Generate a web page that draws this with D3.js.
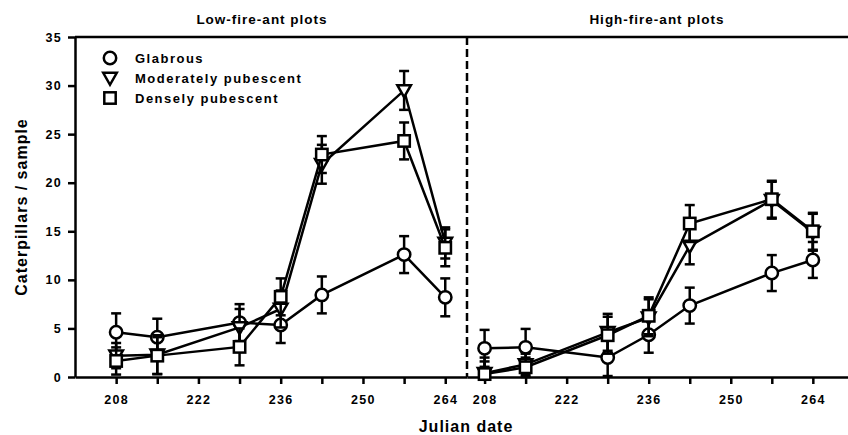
<!DOCTYPE html>
<html>
<head>
<meta charset="utf-8">
<script src="https://cdn.jsdelivr.net/npm/d3@7"></script>
<style>
  body { margin: 0; background: #fff; }
  svg { display: block; font-family: "Liberation Sans", Arial, sans-serif; }
</style>
</head>
<body>
<svg id="chart" width="848" height="435"></svg>
<script>
// Julian dates sampled (same for both panels)
const days = [208, 215, 229, 236, 243, 257, 264];
const xTicks = [208, 215, 222, 229, 236, 243, 250, 257, 264];
const xLabels = [208, 222, 236, 250, 264];
const yTicks = [0, 5, 10, 15, 20, 25, 30, 35];

// Low-fire-ant plots: means and error
const glabLow = [4.6, 4.1, 5.6, 5.35, 8.45, 12.6, 8.2];
const glabLowErr = [1.95, 1.9, 1.9, 1.85, 1.9, 1.9, 1.95];
const modLow = [2.2, 2.3, 5.1, 7.0, 21.9, 29.5, 13.8];
const modLowErr = [1.3, 2.0, 1.9, 1.9, 2.0, 2.0, 1.6];
const denseLow = [1.65, 2.2, 3.1, 8.25, 22.9, 24.3, 13.3];
const denseLowErr = [1.4, 1.9, 1.9, 1.9, 1.9, 1.9, 1.9];

// High-fire-ant plots
const glabHigh = [2.95, 3.05, 2.0, 4.35, 7.35, 10.7, 12.05];
const glabHighErr = [1.9, 1.9, 1.9, 1.85, 1.85, 1.85, 1.85];
const modHigh = [0.4, 1.3, 4.6, 6.1, 13.5, 18.2, 14.9];
const modHighErr = [1.2, 1.1, 1.9, 1.9, 1.9, 1.9, 1.9];
const denseHigh = [0.3, 1.0, 4.3, 6.3, 15.8, 18.3, 15.0];
const denseHighErr = [1.7, 1.0, 1.9, 1.9, 1.9, 1.9, 1.9];

const seriesNames = ['Glabrous', 'Moderately pubescent', 'Densely pubescent'];
const seriesShapes = ['circle', 'triangle', 'square'];

const svg = d3.select('#chart');
const plotTop = 37, plotBottom = 377, plotLeft = 75, divider = 467, plotRight = 848;
const sw = 2.5;

const y = d3.scaleLinear().domain([0, 35]).range([plotBottom, plotTop]);
const xLow = d3.scaleLinear().domain([201, 267.7]).range([plotLeft, divider]);
const xHigh = d3.scaleLinear().domain([205, 270]).range([divider, plotRight]);

function marker(sel, shape) {
  if (shape === 'circle') {
    sel.append('circle').attr('r', 6.2);
  } else if (shape === 'square') {
    sel.append('rect').attr('x', -5.7).attr('y', -5.7).attr('width', 11.4).attr('height', 11.4);
  } else {
    sel.append('path').attr('d', 'M-6.8,-5.2 L6.8,-5.2 L0,6.8 Z');
  }
  sel.selectAll('*')
    .attr('fill', '#fff')
    .attr('stroke', '#000')
    .attr('stroke-width', sw)
    .attr('stroke-linejoin', 'miter');
}

function drawPanel(x, series) {
  // x axis
  const ax = svg.append('g')
    .attr('transform', `translate(0,${plotBottom})`)
    .call(d3.axisBottom(x).tickValues(xTicks).tickSize(7).tickSizeOuter(0)
      .tickFormat((d) => xLabels.includes(d) ? d : ''));
  ax.select('.domain').attr('stroke-width', sw);
  ax.selectAll('.tick line').attr('stroke-width', sw);
  ax.selectAll('.tick text')
    .attr('y', 18)
    .style('font-size', '12.5px')
    .style('font-weight', 'bold')
    .style('letter-spacing', '1.3px');

  const line = d3.line().x((d) => x(d.day)).y((d) => y(d.v));

  series.forEach((s, i) => {
    const pts = days.map((day, j) => ({ day, v: s.values[j], e: s.err[j] }));
    const g = svg.append('g');
    g.append('path')
      .attr('d', line(pts))
      .attr('fill', 'none')
      .attr('stroke', '#000')
      .attr('stroke-width', sw);
    const eb = g.selectAll('.eb').data(pts).enter().append('g');
    eb.append('line')
      .attr('x1', (d) => x(d.day)).attr('x2', (d) => x(d.day))
      .attr('y1', (d) => y(Math.max(0, d.v - d.e))).attr('y2', (d) => y(d.v + d.e));
    eb.append('line')
      .attr('x1', (d) => x(d.day) - 5).attr('x2', (d) => x(d.day) + 5)
      .attr('y1', (d) => y(d.v + d.e)).attr('y2', (d) => y(d.v + d.e));
    eb.append('line')
      .attr('x1', (d) => x(d.day) - 5).attr('x2', (d) => x(d.day) + 5)
      .attr('y1', (d) => y(Math.max(0, d.v - d.e))).attr('y2', (d) => y(Math.max(0, d.v - d.e)));
    eb.selectAll('line').attr('stroke', '#000').attr('stroke-width', sw);
    g.selectAll('.mk').data(pts).enter().append('g')
      .attr('transform', (d) => `translate(${x(d.day)},${y(d.v)})`)
      .each(function () { marker(d3.select(this), seriesShapes[i]); });
  });
}

drawPanel(xLow, [
  { values: glabLow, err: glabLowErr },
  { values: modLow, err: modLowErr },
  { values: denseLow, err: denseLowErr },
]);
drawPanel(xHigh, [
  { values: glabHigh, err: glabHighErr },
  { values: modHigh, err: modHighErr },
  { values: denseHigh, err: denseHighErr },
]);

// y axis
const ay = svg.append('g')
  .attr('transform', `translate(${plotLeft},0)`)
  .call(d3.axisLeft(y).tickValues(yTicks).tickSize(7).tickSizeOuter(0));
ay.select('.domain').attr('stroke-width', sw);
ay.selectAll('.tick line').attr('stroke-width', sw);
ay.selectAll('.tick text')
  .attr('x', -13)
  .style('font-size', '12.5px')
  .style('font-weight', 'bold')
  .style('letter-spacing', '1.3px');

// top frame line
svg.append('line')
  .attr('x1', plotLeft).attr('x2', plotRight).attr('y1', plotTop).attr('y2', plotTop)
  .attr('stroke', '#000').attr('stroke-width', sw);

// dashed divider
svg.append('line')
  .attr('x1', divider).attr('x2', divider).attr('y1', plotTop).attr('y2', plotBottom)
  .attr('stroke', '#000').attr('stroke-width', sw)
  .attr('stroke-dasharray', '8,4');

// panel titles
svg.append('text')
  .attr('x', 262).attr('y', 24)
  .attr('text-anchor', 'middle')
  .style('font-size', '13.5px').style('font-weight', 'bold').style('letter-spacing', '1px')
  .text('Low-fire-ant plots');
svg.append('text')
  .attr('x', 657).attr('y', 24)
  .attr('text-anchor', 'middle')
  .style('font-size', '13.5px').style('font-weight', 'bold').style('letter-spacing', '1px')
  .text('High-fire-ant plots');

// axis titles
svg.append('text')
  .attr('x', 466).attr('y', 432)
  .attr('text-anchor', 'middle')
  .style('font-size', '16px').style('font-weight', 'bold').style('letter-spacing', '1px')
  .text('Julian date');
svg.append('text')
  .attr('transform', `translate(27,${(plotTop + plotBottom) / 2}) rotate(-90)`)
  .attr('text-anchor', 'middle')
  .style('font-size', '16px').style('font-weight', 'bold').style('letter-spacing', '1px')
  .text('Caterpillars / sample');

// legend
const legend = svg.append('g');
seriesNames.forEach((name, i) => {
  const row = legend.append('g').attr('transform', `translate(110,${58 + i * 20})`);
  marker(row.append('g'), seriesShapes[i]);
  row.append('text')
    .attr('x', 25).attr('y', 4.5)
    .style('font-size', '13px').style('font-weight', 'bold').style('letter-spacing', '1.5px')
    .text(name);
});
</script>
</body>
</html>
